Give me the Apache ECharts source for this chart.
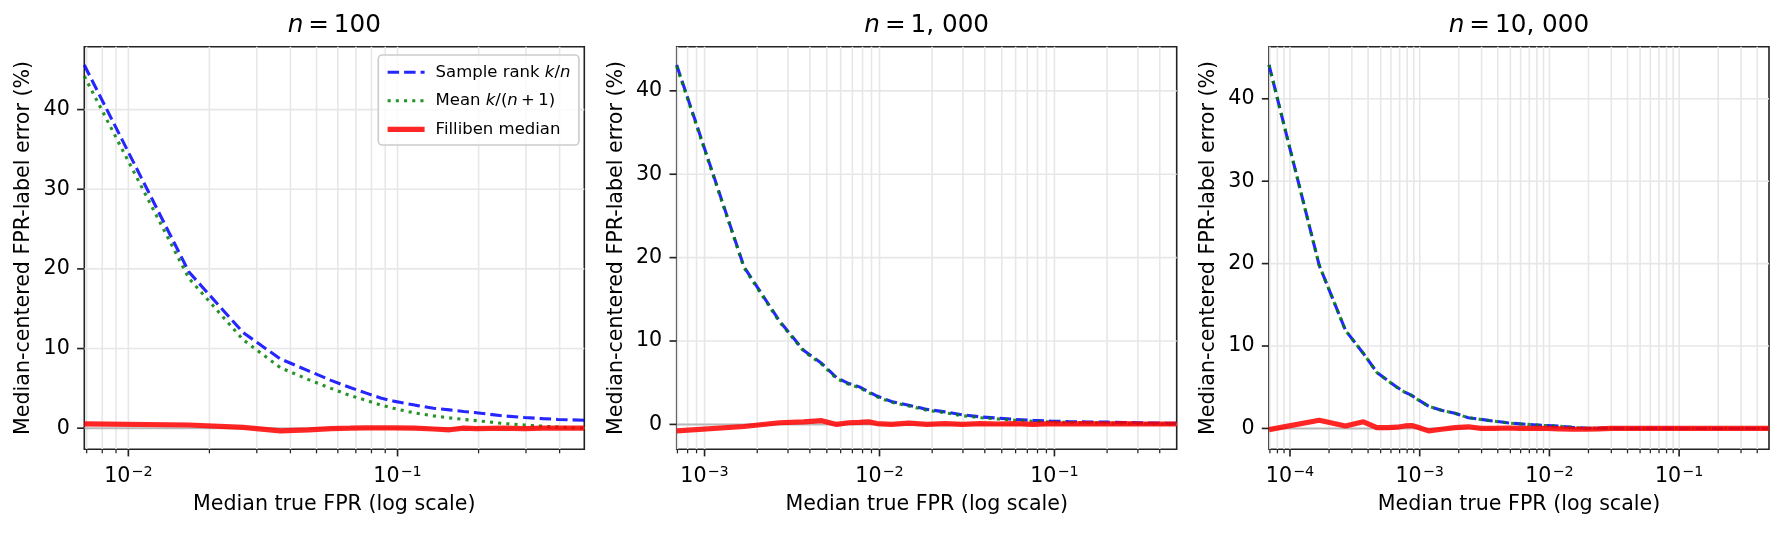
<!DOCTYPE html>
<html>

<head>
    <meta charset="utf-8">
    <script src="https://cdn.jsdelivr.net/npm/echarts@6.0.0/dist/echarts.min.js"></script>
    <style>
        body { margin: 0; background: #fff; }
    </style>
</head>

<body>
    <div id="main" style="width: 1784px;height:533px;"></div>
    <script type="text/javascript">
        // values
        var seriesNames = ['Sample rank k/n', 'Mean k/(n+1)', 'Filliben median'];
        var panelTitles = ['100', '1, 000', '10, 000'];

        // n = 100
        var xs100 = [0.00686, 0.0168, 0.0267, 0.0367, 0.0467, 0.0566, 0.0666, 0.0766, 0.0865, 0.0965,
            0.116, 0.136, 0.156, 0.176, 0.196, 0.246, 0.296, 0.346, 0.395, 0.445, 0.494];
        var blue100 = [45.6, 19.6, 12.0, 8.7, 7.2, 6.0, 5.1, 4.4, 3.8, 3.4,
            2.9, 2.5, 2.3, 2.1, 1.95, 1.55, 1.35, 1.2, 1.1, 1.05, 1.0];
        var green100 = [44.2, 18.8, 11.1, 7.6, 6.1, 5.0, 4.1, 3.5, 2.9, 2.5,
            1.9, 1.55, 1.3, 1.1, 0.95, 0.6, 0.4, 0.25, 0.15, 0.05, 0.0];
        var red100 = [0.55, 0.4, 0.1, -0.34, -0.2, -0.05, 0.0, 0.05, 0.05, 0.05,
            0.0, -0.1, -0.2, 0.0, -0.05, 0.0, -0.05, 0.0, 0.0, 0.0, 0.0];

        // n = 1,000
        var xs1000 = [0.000693, 0.00168, 0.00268, 0.00368, 0.00468, 0.00568, 0.00668, 0.00768, 0.00868, 0.00968,
            0.0117, 0.0147, 0.0187, 0.0237, 0.0297, 0.0377, 0.0477, 0.0597, 0.0757, 0.0957,
            0.12, 0.15, 0.2, 0.25, 0.3, 0.4, 0.5];
        var blue1000 = [43.1, 18.9, 12.4, 8.9, 7.3, 5.6, 4.9, 4.5, 3.9, 3.4,
            2.75, 2.3, 1.8, 1.5, 1.15, 0.9, 0.75, 0.6, 0.48, 0.4,
            0.33, 0.3, 0.27, 0.22, 0.2, 0.15, 0.12];
        var green1000 = [42.95, 18.8, 12.3, 8.8, 7.2, 5.5, 4.8, 4.4, 3.8, 3.3,
            2.65, 2.2, 1.7, 1.4, 1.05, 0.8, 0.65, 0.5, 0.38, 0.3,
            0.23, 0.2, 0.17, 0.12, 0.1, 0.05, 0.02];
        var red1000 = [-0.78, -0.25, 0.2, 0.3, 0.45, 0.0, 0.2, 0.25, 0.3, 0.1,
            0.0, 0.15, 0.0, 0.1, 0.0, 0.1, 0.05, 0.1, 0.0, 0.1,
            0.05, 0.1, 0.05, 0.1, 0.05, 0.05, 0.05];

        // n = 10,000
        var xs10000 = [6.89e-5, 1.68e-4, 2.68e-4, 3.68e-4, 4.68e-4, 5.68e-4, 6.68e-4, 7.68e-4, 8.68e-4, 9.68e-4,
            1.17e-3, 1.47e-3, 1.87e-3, 2.37e-3, 2.97e-3, 3.77e-3, 4.77e-3, 5.97e-3, 7.57e-3, 9.57e-3,
            0.012, 0.015, 0.019, 0.024, 0.03, 0.038, 0.048, 0.06, 0.076, 0.096,
            0.12, 0.15, 0.2, 0.25, 0.3, 0.4, 0.493];
        var blue10000 = [44.1, 19.8, 11.9, 9.1, 6.8, 5.8, 5.0, 4.4, 4.0, 3.5,
            2.7, 2.2, 1.85, 1.3, 1.1, 0.88, 0.68, 0.55, 0.45, 0.35,
            0.27, 0.13, 0.04, 0.02, 0.02, 0.01, 0.01, 0.01, 0.01, 0.01,
            0.0, 0.0, 0.0, 0.0, 0.0, 0.0, 0.0];
        var green10000 = [44.09, 19.79, 11.89, 9.09, 6.79, 5.79, 4.99, 4.39, 3.99, 3.49,
            2.69, 2.19, 1.84, 1.29, 1.09, 0.87, 0.67, 0.54, 0.44, 0.34,
            0.26, 0.12, 0.03, 0.01, 0.01, 0.0, 0.0, 0.0, 0.0, 0.0,
            -0.01, -0.01, -0.01, -0.01, -0.01, -0.01, -0.01];
        var red10000 = [-0.15, 1.0, 0.3, 0.8, 0.1, 0.1, 0.15, 0.3, 0.35, 0.15,
            -0.3, -0.1, 0.1, 0.2, 0.0, 0.0, 0.05, 0.0, 0.0, 0.0,
            -0.05, -0.1, -0.1, -0.05, 0.0, 0.0, 0.0, 0.0, 0.0, 0.0,
            0.0, 0.0, 0.0, 0.0, 0.0, 0.0, 0.0];

        var panels = [
            { x: xs100, blue: blue100, green: green100, red: red100 },
            { x: xs1000, blue: blue1000, green: green1000, red: red1000 },
            { x: xs10000, blue: blue10000, green: green10000, red: red10000 }
        ];

        var FONT = 'DejaVu Sans';
        var BLUE = 'rgba(0,0,255,0.85)';
        var GREEN = 'rgba(0,128,0,0.85)';
        var RED = 'rgba(255,0,0,0.85)';
        var GRID_C = '#e7e7e7';
        var AXIS_C = '#222';
        var gridLeft = [84.3, 676.7, 1269];
        var gridTop = 46.7, gridW = 500, gridH = 402.5;

        var lineStyles = [
            { color: BLUE, width: 3.1, type: [11.5, 5] },
            { color: GREEN, width: 3.1, type: [3.1, 5.1] },
            { color: RED, width: 5.2, type: 'solid' }
        ];

        var myChart = echarts.init(document.getElementById('main'));

        function zip(xs, ys) {
            return xs.map(function (x, i) { return [x, ys[i]]; });
        }

        // matplotlib style autoscale: 5% margin on the y data range
        function yRange(p) {
            var all = p.blue.concat(p.green, p.red);
            var lo = Math.min.apply(null, all), hi = Math.max.apply(null, all);
            var m = (hi - lo) * 0.05;
            return [lo - m, hi + m];
        }

        // tick / grid marks: kind 0 minor x, 1 major x, 2 y tick, 3 zero line
        function axisMarks(xmin, xmax, ymin, ymax) {
            var out = [];
            for (var e = Math.floor(Math.log10(xmin)); e <= Math.ceil(Math.log10(xmax)); e++) {
                for (var m = 1; m <= 9; m++) {
                    var v = m * Math.pow(10, e);
                    if (v > xmin && v < xmax) out.push([v, ymin, m === 1 ? 1 : 0]);
                }
            }
            for (var t = Math.ceil(ymin / 10) * 10; t <= ymax; t += 10) out.push([xmin, t, 2]);
            out.push([xmin, 0, 3]);
            return out;
        }

        function renderMarks(params, api) {
            var cs = params.coordSys;
            var kind = api.value(2);
            var p = api.coord([api.value(0), api.value(1)]);
            var bottom = cs.y + cs.height, right = cs.x + cs.width;
            if (kind <= 1) {
                return {
                    type: 'group', children: [
                        { type: 'line', shape: { x1: p[0], y1: cs.y, x2: p[0], y2: bottom }, style: { stroke: GRID_C, lineWidth: 1.6 } },
                        { type: 'line', shape: { x1: p[0], y1: bottom, x2: p[0], y2: bottom + (kind ? 7.2 : 4.1) }, style: { stroke: AXIS_C, lineWidth: kind ? 1.65 : 1.25 } }
                    ]
                };
            }
            if (kind === 2) {
                return {
                    type: 'group', children: [
                        { type: 'line', shape: { x1: cs.x, y1: p[1], x2: right, y2: p[1] }, style: { stroke: GRID_C, lineWidth: 1.6 } },
                        { type: 'line', shape: { x1: cs.x - 7.2, y1: p[1], x2: cs.x, y2: p[1] }, style: { stroke: AXIS_C, lineWidth: 1.65 } }
                    ]
                };
            }
            return { type: 'line', shape: { x1: cs.x, y1: p[1], x2: right, y2: p[1] }, style: { stroke: 'rgba(128,128,128,0.45)', lineWidth: 2 } };
        }

        function powLabel(v) {
            var e = Math.round(Math.log10(v));
            if (Math.abs(v / Math.pow(10, e) - 1) > 1e-6) return '';
            return '{b|10}{s|\u2212' + (-e) + '}';
        }

        var grids = [], xAxes = [], yAxes = [], series = [], titles = [];

        panels.forEach(function (p, i) {
            var xmin = p.x[0], xmax = p.x[p.x.length - 1];
            var yr = yRange(p);

            grids.push({
                left: gridLeft[i], top: gridTop, width: gridW, height: gridH,
                show: true, borderColor: AXIS_C, borderWidth: 1.6, backgroundColor: 'transparent'
            });

            titles.push({
                text: '{i|n}\u2009=\u2009' + panelTitles[i],
                left: gridLeft[i] + gridW / 2, top: 13, textAlign: 'center', padding: 0,
                textStyle: {
                    fontFamily: FONT, fontSize: 24.7, fontWeight: 'normal', color: '#000',
                    rich: { i: { fontFamily: FONT, fontSize: 24.7, fontStyle: 'italic', color: '#000' } }
                }
            });

            xAxes.push({
                gridIndex: i, type: 'log', logBase: 10, min: xmin, max: xmax,
                axisLine: { show: false }, axisTick: { show: false }, splitLine: { show: false },
                axisLabel: {
                    margin: 14, formatter: powLabel,
                    rich: {
                        b: { fontFamily: FONT, fontSize: 20.6, color: '#000', verticalAlign: 'bottom', lineHeight: 24 },
                        s: { fontFamily: FONT, fontSize: 14.4, color: '#000', verticalAlign: 'bottom', lineHeight: 16, padding: [0, 0, 8, 1] }
                    }
                },
                name: 'Median true FPR (log scale)', nameLocation: 'middle', nameGap: 45,
                nameTextStyle: { fontFamily: FONT, fontSize: 20.6, color: '#000' }
            });

            yAxes.push({
                gridIndex: i, type: 'value', min: yr[0], max: yr[1], splitNumber: 5,
                axisLine: { show: false }, axisTick: { show: false }, splitLine: { show: false },
                axisLabel: {
                    margin: 14.5, fontFamily: FONT, fontSize: 20.6, color: '#000',
                    formatter: function (v) {
                        var r = Math.round(v / 10) * 10;
                        return Math.abs(v - r) < 1e-6 ? String(r) : '';
                    }
                },
                name: 'Median-centered FPR-label error (%)', nameLocation: 'middle', nameGap: 50,
                nameTextStyle: { fontFamily: FONT, fontSize: 20.6, color: '#000' }
            });

            series.push({
                type: 'custom', xAxisIndex: i, yAxisIndex: i, coordinateSystem: 'cartesian2d',
                data: axisMarks(xmin, xmax, yr[0], yr[1]), encode: { x: 0, y: 1 },
                renderItem: renderMarks, silent: true, clip: false, z: 1
            });
            [p.blue, p.green, p.red].forEach(function (ys, j) {
                series.push({
                    name: seriesNames[j], type: 'line', xAxisIndex: i, yAxisIndex: i,
                    data: zip(p.x, ys), symbol: 'none', silent: true, z: 3 + j,
                    color: lineStyles[j].color, lineStyle: lineStyles[j]
                });
            });
        });

        var legendText = {
            'Sample rank k/n': 'Sample rank {i|k}/{i|n}',
            'Mean k/(n+1)': 'Mean {i|k}/({i|n}\u2009+\u20091)',
            'Filliben median': 'Filliben median'
        };

        option = {
            animation: false,
            backgroundColor: '#fff',
            title: titles,
            grid: grids,
            xAxis: xAxes,
            yAxis: yAxes,
            legend: {
                data: seriesNames.map(function (name, j) {
                    return { name: name, lineStyle: lineStyles[j], itemStyle: { opacity: 0 } };
                }),
                orient: 'vertical', left: 378.3, top: 55,
                padding: [7.3, 8.5, 5.7, 6.7], itemWidth: 37, itemHeight: 14, itemGap: 8.5,
                backgroundColor: 'rgba(255,255,255,0.8)', borderColor: '#cccccc', borderWidth: 1.6, borderRadius: 4,
                selectedMode: false,
                formatter: function (name) { return legendText[name]; },
                textStyle: {
                    fontFamily: FONT, fontSize: 16.5, color: '#000', lineHeight: 20, padding: [0, 0, 0, 6],
                    rich: { i: { fontFamily: FONT, fontSize: 16.5, fontStyle: 'italic', color: '#000', lineHeight: 20 } }
                }
            },
            series: series
        };

        myChart.setOption(option);
    </script>
</body>

</html>
